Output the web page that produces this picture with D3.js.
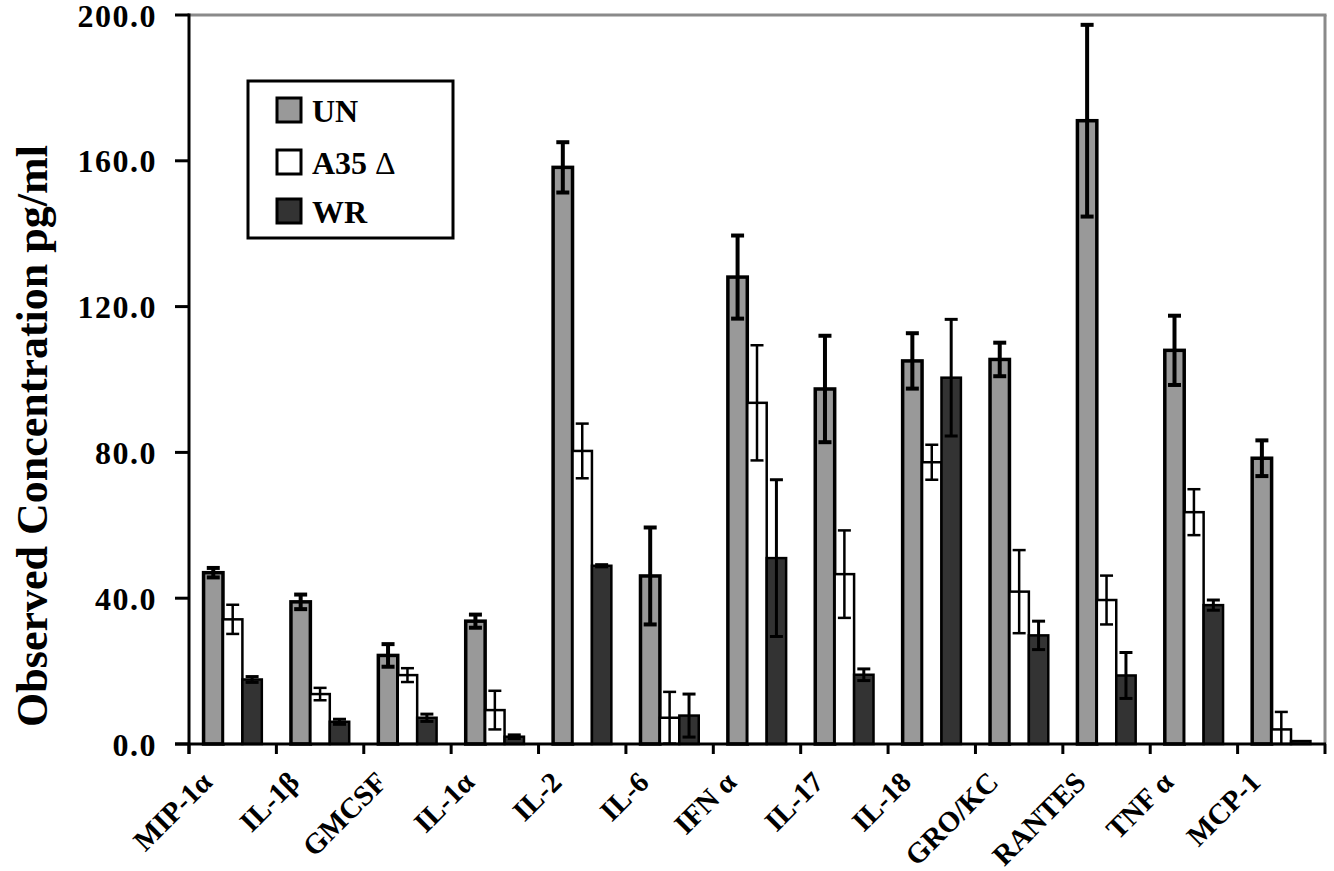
<!DOCTYPE html>
<html>
<head>
<meta charset="utf-8">
<script src="https://cdn.jsdelivr.net/npm/d3@7"></script>
<style>
  html, body { margin: 0; padding: 0; background: #fff; }
  svg { display: block; }
  text { font-family: "Liberation Serif", "Times New Roman", serif; font-weight: bold; fill: #000; }
</style>
</head>
<body>
<svg id="chart" width="1334" height="871"></svg>
<script>
// Cytokine concentrations (pg/ml), mean and error per treatment group
const categories = ["MIP-1α", "IL-1β", "GMCSF", "IL-1α", "IL-2", "IL-6", "IFN α", "IL-17", "IL-18", "GRO/KC", "RANTES", "TNF α", "MCP-1"];
const seriesNames = ["UN", "A35 Δ", "WR"];
const unValues  = [47.0, 39.0, 24.3, 33.7, 158.2, 46.1, 128.1, 97.4, 105.1, 105.5, 171.0, 108.0, 78.4];
const unErrors  = [1.3, 2.0, 3.1, 1.8, 6.9, 13.3, 11.4, 14.6, 7.6, 4.6, 26.3, 9.5, 4.9];
const a35Values = [34.2, 13.7, 18.9, 9.3, 80.4, 7.2, 93.6, 46.6, 77.3, 41.8, 39.5, 63.6, 4.0];
const a35Errors = [4.0, 1.7, 1.9, 5.3, 7.5, 7.1, 15.8, 12.0, 4.8, 11.4, 6.7, 6.3, 4.8];
const wrValues  = [17.7, 6.1, 7.2, 2.0, 48.9, 7.8, 51.0, 19.0, 100.5, 29.8, 18.8, 38.1, 0.8];
const wrErrors  = [0.8, 0.7, 1.0, 0.5, 0.3, 5.9, 21.5, 1.6, 16.0, 3.9, 6.3, 1.4, 0];
const yTicks = [0, 40, 80, 120, 160, 200];

const seriesValues = [unValues, a35Values, wrValues];
const seriesErrors = [unErrors, a35Errors, wrErrors];
const fills = ["#999999", "#ffffff", "#333333"];
const barStroke = [3.5, 2.5, 2.5];
const errStroke = [4, 2.5, 3];

const plot = { left: 189, right: 1325, top: 15, bottom: 744 };

const svg = d3.select("#chart");

const x0 = d3.scaleBand().domain(categories).range([plot.left, plot.right]).padding(0);
const x1 = d3.scaleBand().domain(d3.range(3)).range([0, x0.bandwidth()]).paddingInner(0).paddingOuter(0.75);
const y = d3.scaleLinear().domain([0, 200]).range([plot.bottom, plot.top]);

// flat records for bars
const records = [];
categories.forEach((c, i) => {
  for (let s = 0; s < 3; s++) {
    records.push({ cat: c, s, value: seriesValues[s][i], err: seriesErrors[s][i] });
  }
});

// plot frame (grey top and right edges)
svg.append("line").attr("x1", plot.left).attr("x2", plot.right + 1.5)
  .attr("y1", plot.top).attr("y2", plot.top).attr("stroke", "#8a8a8a").attr("stroke-width", 3);
svg.append("line").attr("x1", plot.right).attr("x2", plot.right)
  .attr("y1", plot.top).attr("y2", plot.bottom).attr("stroke", "#8a8a8a").attr("stroke-width", 3);

// bars
svg.append("g").selectAll("rect").data(records).join("rect")
  .attr("x", d => x0(d.cat) + x1(d.s))
  .attr("width", x1.bandwidth())
  .attr("y", d => y(d.value))
  .attr("height", d => y(0) - y(d.value))
  .attr("fill", d => fills[d.s])
  .attr("stroke", "#000")
  .attr("stroke-width", d => barStroke[d.s]);

// error bars
const eg = svg.append("g").selectAll("g").data(records.filter(d => d.err > 0)).join("g")
  .attr("stroke", "#000")
  .attr("stroke-width", d => errStroke[d.s]);
const cx = d => x0(d.cat) + x1(d.s) + x1.bandwidth() / 2;
eg.append("line")
  .attr("x1", cx).attr("x2", cx)
  .attr("y1", d => y(d.value + d.err)).attr("y2", d => y(Math.max(0, d.value - d.err)));
eg.append("line")
  .attr("x1", d => cx(d) - 6.5).attr("x2", d => cx(d) + 6.5)
  .attr("y1", d => y(d.value + d.err)).attr("y2", d => y(d.value + d.err));
eg.filter(d => d.value - d.err > 0).append("line")
  .attr("x1", d => cx(d) - 6.5).attr("x2", d => cx(d) + 6.5)
  .attr("y1", d => y(d.value - d.err)).attr("y2", d => y(d.value - d.err));

// y axis
const yAxis = svg.append("g");
yAxis.append("line").attr("x1", plot.left).attr("x2", plot.left)
  .attr("y1", plot.top - 1.5).attr("y2", plot.bottom + 10).attr("stroke", "#000").attr("stroke-width", 3);
yAxis.selectAll("line.tick").data(yTicks).join("line").attr("class", "tick")
  .attr("x1", plot.left - 14).attr("x2", plot.left)
  .attr("y1", d => y(d)).attr("y2", d => y(d))
  .attr("stroke", "#000").attr("stroke-width", 3);
yAxis.selectAll("text").data(yTicks).join("text")
  .attr("x", 157).attr("y", d => y(d)).attr("dy", "0.36em")
  .attr("text-anchor", "end")
  .style("font-size", "32px")
  .style("letter-spacing", "1.5px")
  .text(d => d3.format(".1f")(d));

// x axis
const xAxis = svg.append("g");
xAxis.append("line").attr("x1", plot.left - 14).attr("x2", plot.right + 1)
  .attr("y1", plot.bottom).attr("y2", plot.bottom).attr("stroke", "#000").attr("stroke-width", 3);
const boundaries = categories.map(c => x0(c)).concat([plot.right]);
xAxis.selectAll("line.tick").data(boundaries).join("line").attr("class", "tick")
  .attr("x1", d => d).attr("x2", d => d)
  .attr("y1", plot.bottom).attr("y2", plot.bottom + 10)
  .attr("stroke", "#000").attr("stroke-width", 3);
xAxis.selectAll("text").data(categories).join("text")
  .attr("text-anchor", "end")
  .attr("transform", c => `translate(${x0(c) + x0.bandwidth() / 2 - 19},${784}) rotate(-45)`)
  .style("font-size", "29px")
  .text(c => c);

// y title: sized so it runs from y=727 up to y=145
const titleSpan = [145, 727];
const title = svg.append("text")
  .attr("text-anchor", "middle")
  .style("font-size", "40px")
  .text("Observed Concentration pg/ml");
const len40 = title.node().getComputedTextLength();
const titleSize = 40 * (titleSpan[1] - titleSpan[0]) / len40;
title.style("font-size", titleSize + "px")
  .attr("transform", `translate(${8 + titleSize * 0.89},${(titleSpan[0] + titleSpan[1]) / 2}) rotate(-90)`);

// legend
const legend = svg.append("g");
legend.append("rect").attr("x", 248).attr("y", 81).attr("width", 205).attr("height", 157)
  .attr("fill", "#fff").attr("stroke", "#000").attr("stroke-width", 3);
const rowY = [110, 162, 211];
seriesNames.forEach((name, i) => {
  legend.append("rect").attr("x", 277).attr("y", rowY[i] - 12).attr("width", 24).attr("height", 24)
    .attr("fill", fills[i]).attr("stroke", "#000").attr("stroke-width", 3);
  const t = legend.append("text").attr("x", 312).attr("y", rowY[i] + 12).style("font-size", "32px");
  if (name.includes("Δ")) {
    t.append("tspan").text(name.replace(" Δ", " "));
    t.append("tspan").style("font-weight", "normal").text("Δ");
  } else {
    t.text(name);
  }
});
</script>
</body>
</html>
